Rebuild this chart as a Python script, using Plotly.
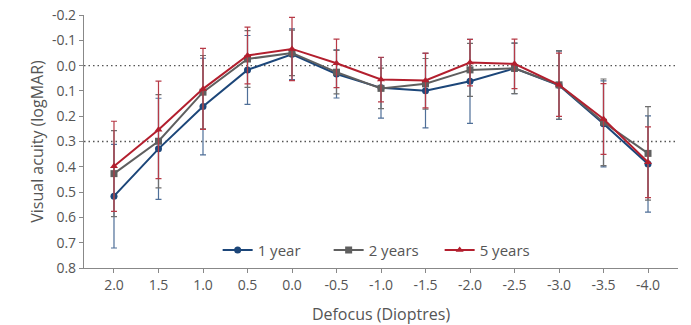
import plotly.graph_objects as go

defocus = [2.0, 1.5, 1.0, 0.5, 0.0, -0.5, -1.0, -1.5, -2.0, -2.5, -3.0, -3.5, -4.0]
tick_labels = ["2.0", "1.5", "1.0", "0.5", "0.0", "-0.5", "-1.0", "-1.5", "-2.0", "-2.5", "-3.0", "-3.5", "-4.0"]

y1 = [0.516, 0.329, 0.162, 0.017, -0.045, 0.033, 0.088, 0.099, 0.062, 0.011, 0.078, 0.230, 0.389]
e1 = [0.205, 0.200, 0.191, 0.136, 0.100, 0.095, 0.120, 0.147, 0.166, 0.100, 0.135, 0.170, 0.190]

y2 = [0.427, 0.299, 0.105, -0.026, -0.050, 0.026, 0.090, 0.072, 0.017, 0.011, 0.076, 0.224, 0.347]
e2 = [0.170, 0.184, 0.145, 0.112, 0.090, 0.086, 0.080, 0.100, 0.105, 0.100, 0.135, 0.171, 0.185]

y5 = [0.398, 0.254, 0.092, -0.040, -0.066, -0.009, 0.055, 0.059, -0.012, -0.007, 0.076, 0.211, 0.382]
e5 = [0.178, 0.193, 0.160, 0.112, 0.125, 0.096, 0.088, 0.108, 0.092, 0.098, 0.125, 0.140, 0.140]

series = [
    ("1 year", y1, e1, "#1c4679", "#4f6f98", "circle"),
    ("2 years", y2, e2, "#5f5f5f", "#6f6f6f", "square"),
    ("5 years", y5, e5, "#b31f2e", "#b73a47", "triangle-up"),
]

fig = go.Figure()
for name, ys, es, col, ecol, sym in series:
    fig.add_trace(go.Scatter(
        x=defocus, y=ys, name=name, mode="lines+markers",
        line=dict(color=col, width=2),
        marker=dict(color=col, symbol=sym, size=7),
        error_y=dict(type="data", array=es, visible=True, color=ecol, thickness=1.2, width=3),
    ))

for v in [0.0, 0.3]:
    fig.add_shape(type="line", xref="paper", x0=0, x1=1, yref="y", y0=v, y1=v,
                  line=dict(color="#555555", width=1.3, dash="1.5px,3px"), layer="below")

font_col = "#555555"
fig.update_layout(
    width=691, height=325,
    margin=dict(l=84, r=13, t=15, b=57),
    plot_bgcolor="white", paper_bgcolor="white",
    font=dict(family="Open Sans", size=14, color=font_col),
    showlegend=True,
    legend=dict(orientation="h", x=0.225, y=0.07, xanchor="left", yanchor="middle",
                bgcolor="rgba(0,0,0,0)", font=dict(size=15, color=font_col),
                entrywidth=66, entrywidthmode="pixels", itemwidth=30),
    xaxis=dict(
        range=[2.337, -4.337], tickmode="array", tickvals=defocus, ticktext=tick_labels,
        showgrid=False, zeroline=False, showline=True, linecolor="#888888", linewidth=1.2,
        ticks="outside", ticklen=4, tickcolor="#888888", automargin=False,
        title=dict(text="Defocus (Dioptres)", font=dict(size=16, color=font_col), standoff=19),
    ),
    yaxis=dict(
        range=[0.8, -0.2], tickmode="array",
        tickvals=[-0.2, -0.1, 0.0, 0.1, 0.2, 0.3, 0.4, 0.5, 0.6, 0.7, 0.8],
        ticktext=["-0.2", "-0.1", "0.0", "0.1", "0.2", "0.3", "0.4", "0.5", "0.6", "0.7", "0.8"],
        showgrid=False, zeroline=False, showline=True, linecolor="#888888", linewidth=1.2,
        ticks="outside", ticklen=4, tickcolor="#888888", automargin=False,
        title=dict(text="Visual acuity (logMAR)", font=dict(size=16, color=font_col), standoff=4),
    ),
)

fig.write_html("out.html")
